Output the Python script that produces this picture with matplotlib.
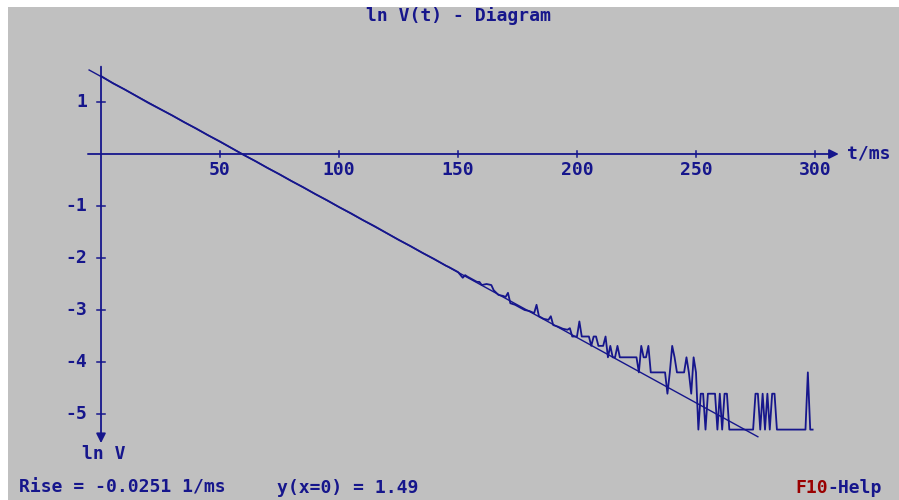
import numpy as np
import matplotlib
matplotlib.use("Agg")
import matplotlib.pyplot as plt
from matplotlib.patches import Rectangle

# measured ln V(t), t in ms
t_a = [0, 5, 10, 15, 20, 25, 30, 35, 40, 45, 50, 55, 60, 65, 70, 75, 80, 85, 90, 95,
       100, 105, 110, 115, 120, 125, 130, 135, 140, 145]
v_a = [1.50, 1.36, 1.24, 1.11, 0.98, 0.86, 0.74, 0.61, 0.49, 0.36, 0.24, 0.11, -0.02,
       -0.14, -0.27, -0.39, -0.52, -0.64, -0.77, -0.89, -1.02, -1.14, -1.27, -1.39,
       -1.52, -1.65, -1.77, -1.90, -2.02, -2.15]

t_b = [146, 148, 150, 152, 153, 154, 156, 158, 159, 160, 162, 164, 165, 167, 169, 170,
       171, 172, 174, 176, 178, 180, 182, 183, 184, 186, 188, 189, 190, 192, 194, 196]
v_b = [-2.17, -2.22, -2.27, -2.38, -2.33, -2.36, -2.41, -2.46, -2.46, -2.52, -2.50,
       -2.52, -2.62, -2.71, -2.73, -2.75, -2.67, -2.87, -2.90, -2.95, -3.00, -3.02,
       -3.06, -2.90, -3.12, -3.17, -3.19, -3.12, -3.29, -3.32, -3.36, -3.38]

# quantized tail: ADC level index per ms from 197 to 299
levels = [None, -5.30, -4.61, -4.20, -3.91, -3.69, -3.51, -3.35, -3.22]
t_c = list(range(197, 300))
k_c = [7, 6, 6, 6, 8, 6, 6, 6, 6, 5, 6, 6, 5, 5, 5, 6, 4, 5, 4, 4,
       5, 4, 4, 4, 4, 4, 4, 4, 4, 3, 5, 4, 4, 5, 3, 3, 3, 3, 3, 3,
       3, 2, 3, 5, 4, 3, 3, 3, 3, 4, 3, 2, 4, 3, 1, 2, 2, 1, 2, 2,
       2, 2, 1, 2, 1, 2, 2, 1, 1, 1, 1, 1, 1, 1, 1, 1, 1, 1, 2, 2,
       1, 2, 1, 2, 1, 2, 2, 1, 1, 1, 1, 1, 1, 1, 1, 1, 1, 1, 1, 1,
       3, 1, 1]
k_c = k_c[:len(t_c) - 1] + [1]
v_c = [levels[k] for k in k_c]

# regression line
fit_rise = -0.0251
fit_y0 = 1.49
fit_t = np.array([-5, 276])

x_ticks = [50, 100, 150, 200, 250, 300]
y_ticks = [1, -1, -2, -3, -4, -5]

blue = "#16168c"
red = "#9a0000"
bg = "#c0c0c0"
font = dict(family="DejaVu Sans Mono", weight="bold", size=13, color=blue)

fig = plt.figure(figsize=(8.99, 5.0), dpi=100, facecolor=bg)
fig.patches.append(Rectangle((0, 1 - 7 / 500), 1, 7 / 500, transform=fig.transFigure,
                             facecolor="white", edgecolor="none"))
fig.patches.append(Rectangle((0, 0), 8 / 899, 1, transform=fig.transFigure,
                             facecolor="white", edgecolor="none"))

ax = fig.add_axes([0, 0, 1, 1])
ax.set_xlim(-42.44, 335.3)
ax.set_ylim(-6.654, 2.9615)
ax.axis("off")

# axes with arrows
ax.annotate("", xy=(310.0, 0), xytext=(-5.5, 0),
            arrowprops=dict(arrowstyle="-|>", color=blue, lw=1.3, mutation_scale=14,
                            shrinkA=0, shrinkB=0))
ax.annotate("", xy=(0, -5.56), xytext=(0, 1.68),
            arrowprops=dict(arrowstyle="-|>", color=blue, lw=1.3, mutation_scale=14,
                            shrinkA=0, shrinkB=0))

for xt in x_ticks:
    ax.plot([xt, xt], [0.065, -0.055], color=blue, lw=1.1)
    ax.text(xt, -0.31, str(xt), ha="center", va="center", **font)
for yt in y_ticks:
    ax.plot([-1.5, 1.5], [yt, yt], color=blue, lw=1.1)
    ax.text(-5.8, yt, str(yt), ha="right", va="center", **font)

# data and fit
t_all = t_a + t_b + t_c
v_all = v_a + v_b + v_c
ax.plot(t_all, v_all, color=blue, lw=1.3)
ax.plot(fit_t, fit_y0 + fit_rise * fit_t, color=blue, lw=1.0)

# labels
ax.text(150, 2.66, "ln V(t) - Diagram", ha="center", va="center", **font)
ax.text(313.5, 0.0, "t/ms", ha="left", va="center", **font)
ax.text(-8.0, -5.77, "ln V", ha="left", va="center", **font)
ax.text(-34.4, -6.42, "Rise = -0.0251 1/ms", ha="left", va="center", **font)
ax.text(74.0, -6.42, "y(x=0) = 1.49", ha="left", va="center", **font)
ax.text(291.6, -6.42, "F10", ha="left", va="center", **{**font, "color": red})
ax.text(305.3, -6.42, "-Help", ha="left", va="center", **font)

fig.savefig("out.png", dpi=100, facecolor=bg)
